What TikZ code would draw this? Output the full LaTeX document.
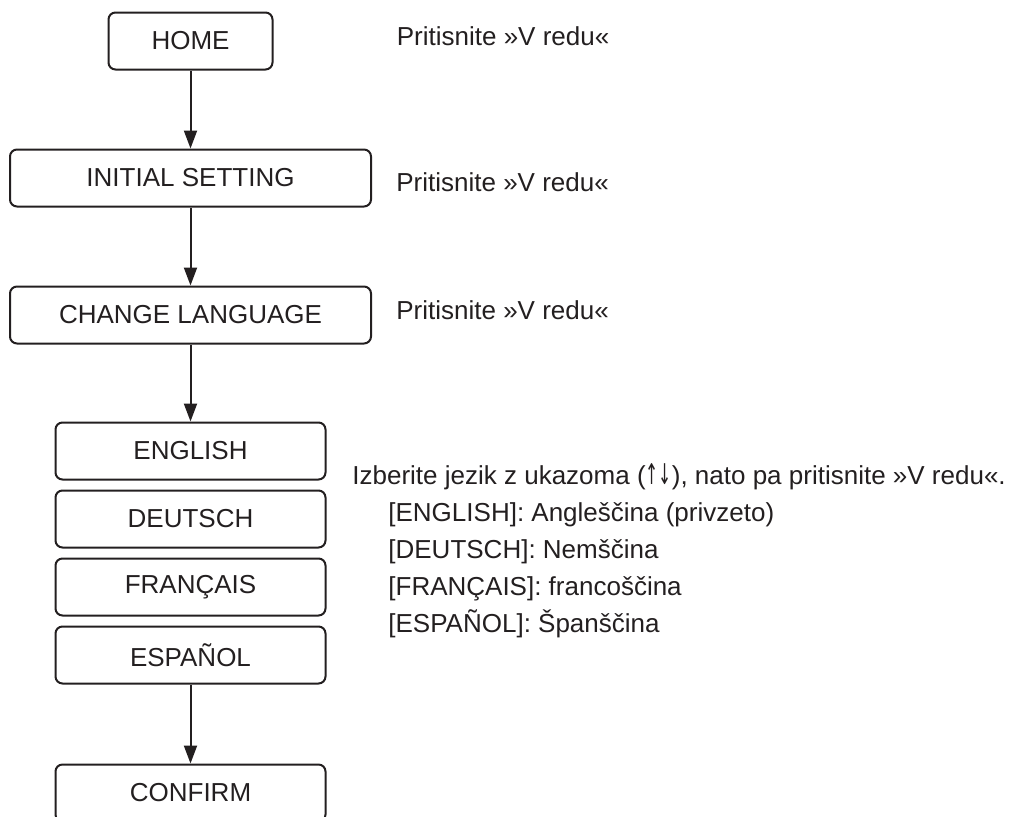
\documentclass[tikz,border=0pt]{standalone}
\usepackage{fontspec}
\setmainfont{Liberation Sans}
\newfontfamily\arrowfont{DejaVu Sans}
\usepackage{tikz}
\usetikzlibrary{arrows.meta,positioning}
\definecolor{ink}{RGB}{35,31,32}

\begin{document}
\begin{tikzpicture}[x=0.5pt, y=-0.5pt, >={Triangle[width=6.5pt,length=9pt]}, node distance=39pt,
  menubox/.style={draw=ink, text=ink, line width=1pt, rounded corners=3.5pt, minimum height=28.5pt, inner sep=0pt, font=\fontsize{13}{15}\selectfont},
  langbox/.style={menubox, minimum width=135pt},
  hint/.style={text=ink, inner sep=0pt, anchor=west, font=\fontsize{13}{15}\selectfont}]
  \useasboundingbox (0,0) rectangle (1022,816);

  \node[menubox, minimum width=82pt] (home) at (190.5,41) {HOME};
  \node[menubox, minimum width=180.5pt, below=of home] (init) {INITIAL SETTING};
  \node[menubox, minimum width=180.5pt, below=of init] (lang) {CHANGE LANGUAGE};
  \node[langbox, below=38.5pt of lang] (en) {ENGLISH};
  \node[langbox, below=4.5pt of en] (de) {DEUTSCH};
  \node[langbox, below=4.5pt of de] (fr) {FRANÇAIS};
  \node[langbox, below=4.5pt of fr] (es) {ESPAÑOL};
  \node[langbox, below=39.5pt of es] (ok) {CONFIRM};

  \draw[->, draw=ink, fill=ink, line width=1pt] (home) -- (init);
  \draw[->, draw=ink, fill=ink, line width=1pt] (init) -- (lang);
  \draw[->, draw=ink, fill=ink, line width=1pt] (lang) -- (en);
  \draw[->, draw=ink, fill=ink, line width=1pt] (es) -- (ok);

  % notes on the right
  \node[hint, right=61.5pt of home, yshift=2.5pt] (homehint) {Pritisnite »V redu«};
  \node[hint, right=12pt of init, yshift=-2pt] (inithint) {Pritisnite »V redu«};
  \node[hint, right=12pt of lang, yshift=2.5pt] (langhint) {Pritisnite »V redu«};
  \node[text=ink, inner sep=0pt, anchor=north west, align=left, font=\fontsize{13}{18.5}\selectfont] (choice) at (352,463)
    {Izberite jezik z ukazoma ({\arrowfont\scalebox{0.6}[1.1]{↑↓}}), nato pa pritisnite »V redu«.\\
     \hspace*{18pt}[ENGLISH]: Angleščina (privzeto)\\
     \hspace*{18pt}[DEUTSCH]: Nemščina\\
     \hspace*{18pt}[FRANÇAIS]: francoščina\\
     \hspace*{18pt}[ESPAÑOL]: Španščina};
\end{tikzpicture}
\end{document}
